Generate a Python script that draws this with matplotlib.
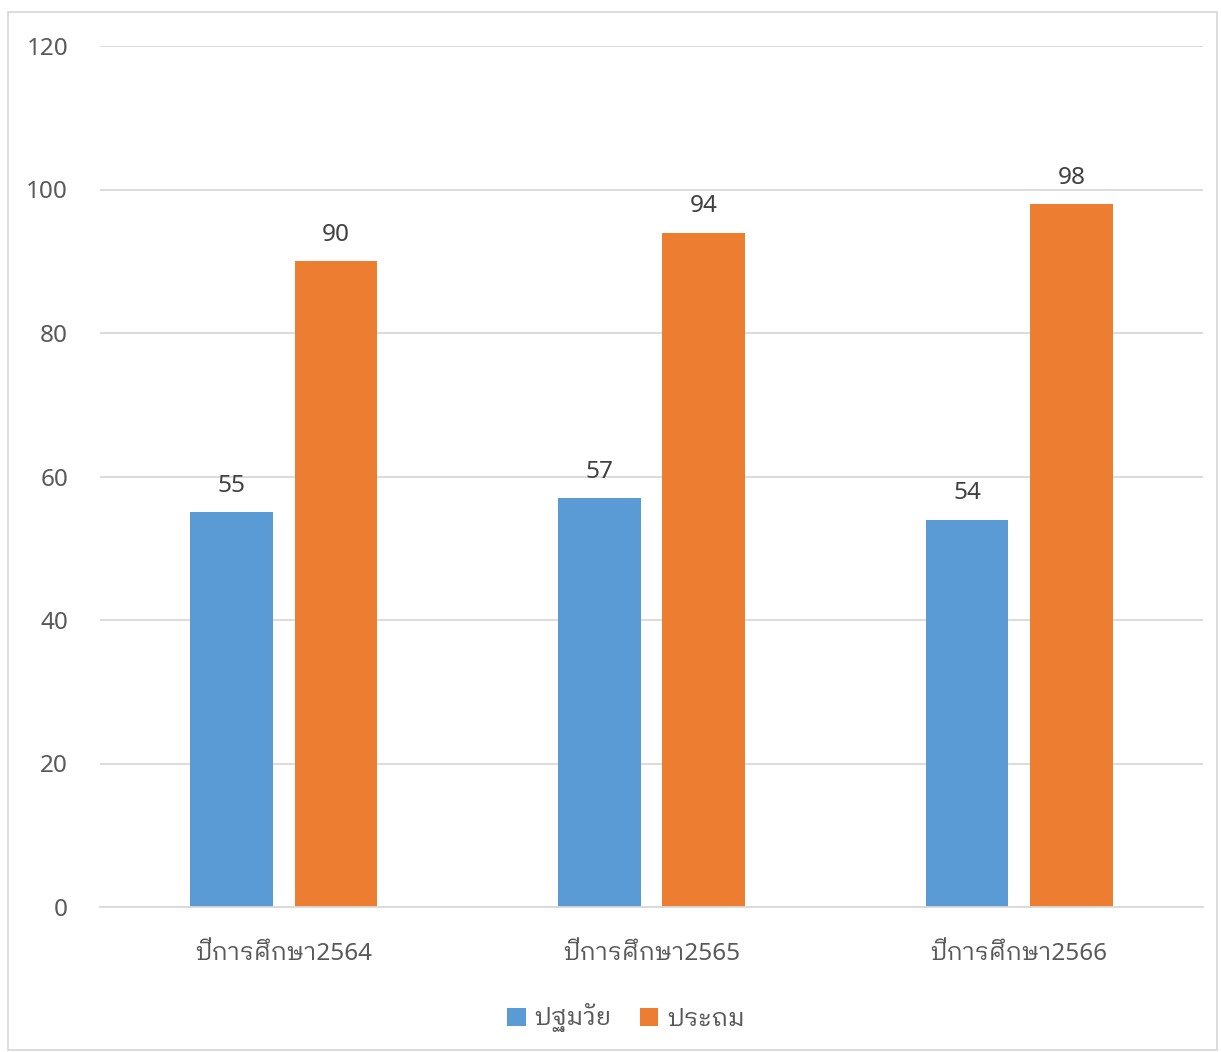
import os
import numpy as np
import matplotlib
matplotlib.use("Agg")
from matplotlib import pyplot as plt
from matplotlib import font_manager
from matplotlib.patches import Rectangle

categories = ['ปีการศึกษา2564', 'ปีการศึกษา2565', 'ปีการศึกษา2566']
series_names = ['ปฐมวัย', 'ประถม']
primary = [55, 57, 54]
elementary = [90, 94, 98]
colors = ['#5b9bd5', '#ed7d31']

# pick a Thai font (looped style like the original)
thai_family = None
wanted = ['IBMPlexSansThaiLooped-Regular.ttf', 'Loma.otf', 'Loma.ttf', 'IBMPlexSansThai-Regular.ttf', 'Sarabun-Regular.ttf']
paths = font_manager.findSystemFonts()
for name in wanted:
    hits = [p for p in paths if os.path.basename(p) == name]
    if hits:
        font_manager.fontManager.addfont(hits[0])
        thai_family = font_manager.FontProperties(fname=hits[0]).get_name()
        break
families = ['Noto Sans', 'DejaVu Sans']
if thai_family:
    families = ['Noto Sans', thai_family, 'DejaVu Sans']
plt.rcParams['font.family'] = families

text_color = '#595959'
fig = plt.figure(figsize=(12.21, 10.52), dpi=100)
ax = fig.add_axes([100 / 1221, 1 - 907 / 1052, 1103 / 1221, 861 / 1052])

x = np.arange(len(categories))
w = 0.225
b1 = ax.bar(x - 0.142, primary, w, color=colors[0], label=series_names[0])
b2 = ax.bar(x + 0.142, elementary, w, color=colors[1], label=series_names[1])
for bars in (b1, b2):
    for r in bars:
        ax.text(r.get_x() + r.get_width() / 2, r.get_height() + 2.0, str(int(r.get_height())),
                ha='center', va='bottom', fontsize=17.5, color='#404040')

ax.set_xlim(-0.5, 2.5)
ax.set_ylim(0, 120)
ax.set_yticks(range(0, 121, 20))
ax.set_xticks(x)
ax.set_xticklabels(categories)
ax.grid(axis='y', color='#d9d9d9', linewidth=1.3)
ax.set_axisbelow(True)
for s in ['top', 'right', 'left']:
    ax.spines[s].set_visible(False)
ax.spines['bottom'].set_color('#d9d9d9')
ax.spines['bottom'].set_linewidth(1.3)
ax.tick_params(axis='both', length=0, labelsize=17.5, colors=text_color)
ax.tick_params(axis='y', pad=23)
ax.tick_params(axis='x', pad=25)

fig.legend(handles=[b1, b2], loc='center', bbox_to_anchor=(626 / 1221, 1 - 1018 / 1052), ncol=2,
           frameon=False, fontsize=18, handlelength=0.75, handleheight=0.75,
           handletextpad=0.35, columnspacing=1.1, labelcolor=text_color)

fig.patches.append(Rectangle((8 / 1221, 2 / 1052), 1209 / 1221, 1038 / 1052,
                             transform=fig.transFigure, fill=False,
                             edgecolor='#d9d9d9', linewidth=1.3))

fig.savefig('out.png', dpi=100)
